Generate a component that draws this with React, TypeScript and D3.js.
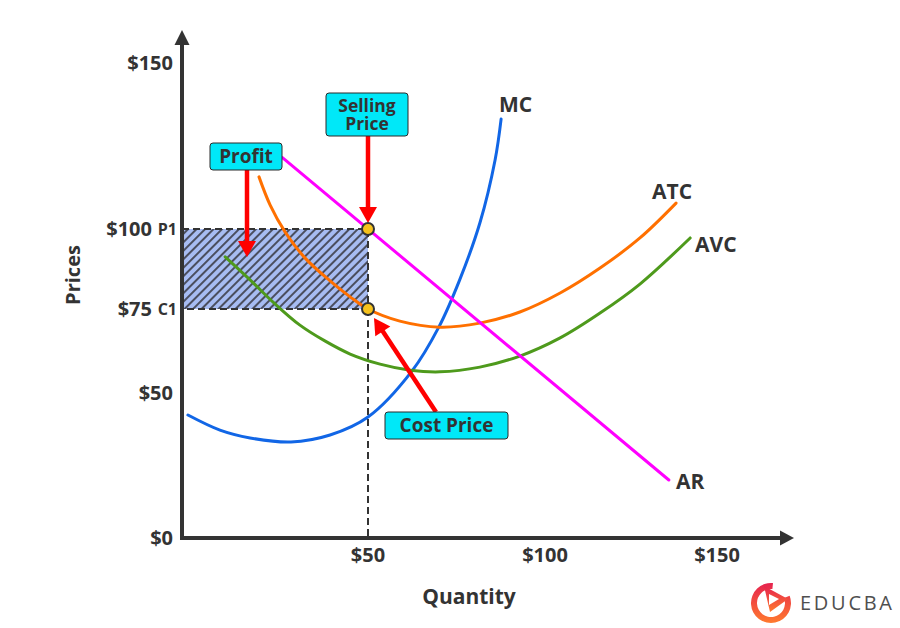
import React, { useEffect, useRef } from 'react';
import * as d3 from 'd3';

const W = 900;
const H = 628;
const FONT = '"Open Sans", "DejaVu Sans", sans-serif';
const INK = '#333333';

// axis ticks
const xTickValues = [50, 100, 150];
const xTickLabels = ['$50', '$100', '$150'];
const yTickValues = [0, 50, 75, 100, 150];
const yTickLabels = ['$0', '$50', '$75', '$100', '$150'];
const yTickTags = ['', '', 'C1', 'P1', ''];

// cost and revenue curves: quantity vs price
const mcQty = [1.6, 10.2, 18.3, 29.3, 39.8, 50, 62.4, 70.0, 75.9, 81.6, 85.9, 87.6];
const mcPrice = [42.4, 37.2, 34.5, 33.1, 35.5, 41.7, 56.5, 69.6, 84.1, 101.8, 120.8, 133.1];
const atcQty = [20.7, 23.7, 27.7, 33.1, 39.8, 45.2, 50, 59.0, 70.3, 81.6, 92.9, 104.4, 116.0, 127.6, 138.1];
const atcPrice = [115.7, 107.2, 99.1, 90.9, 83.8, 78.8, 75, 71.4, 69.6, 70.8, 74.1, 80.0, 87.8, 97.2, 107.8];
const avcQty = [11.6, 18.3, 25.0, 31.7, 38.4, 45.2, 53.4, 61.9, 70.3, 81.6, 92.9, 104.4, 116.0, 127.6, 142.2];
const avcPrice = [91.3, 84.1, 76.6, 70.2, 65.5, 61.6, 58.6, 56.8, 56.3, 57.7, 61.0, 66.4, 73.8, 82.8, 97.2];
const arQty = [27, 136];
const arPrice = [121.5, 20];

// output and the two price levels
const outputQty = 50;
const sellingPrice = 100; // P1
const costPrice = 75; // C1

const curves = [
  { name: 'MC', qty: mcQty, price: mcPrice, color: '#1166E6' },
  { name: 'ATC', qty: atcQty, price: atcPrice, color: '#FF7000' },
  { name: 'AVC', qty: avcQty, price: avcPrice, color: '#4E9A1C' },
  { name: 'AR', qty: arQty, price: arPrice, color: '#FF00FF' },
];

const App = () => {
  const svgRef = useRef<SVGSVGElement>(null);

  useEffect(() => {
    const svg = d3.select(svgRef.current);
    svg.selectAll('*').remove();

    const x = d3.scaleLinear().domain([0, 50, 100, 150]).range([182, 368, 545, 717]);
    const y = d3.scaleLinear().domain([0, 50, 75, 100, 150]).range([538, 393, 309, 229, 63]);
    const x0 = x(0);
    const y0 = y(0);

    const defs = svg.append('defs');
    const hatch = defs.append('pattern')
      .attr('id', 'hatch')
      .attr('patternUnits', 'userSpaceOnUse')
      .attr('width', 6)
      .attr('height', 6)
      .attr('patternTransform', 'rotate(45)');
    hatch.append('rect').attr('width', 6).attr('height', 6).attr('fill', '#A7BCF2');
    hatch.append('line')
      .attr('x1', 1).attr('y1', 0).attr('x2', 1).attr('y2', 6)
      .attr('stroke', '#3a3a44').attr('stroke-width', 1.7);

    const grad = defs.append('linearGradient')
      .attr('id', 'logoGrad')
      .attr('x1', '0.2').attr('y1', '0').attr('x2', '0.2').attr('y2', '1');
    grad.append('stop').attr('offset', '0%').attr('stop-color', '#E6234F');
    grad.append('stop').attr('offset', '100%').attr('stop-color', '#FF7A2E');

    // profit area between P1 and C1
    svg.append('rect')
      .attr('x', x0)
      .attr('y', y(sellingPrice))
      .attr('width', x(outputQty) - x0)
      .attr('height', y(costPrice) - y(sellingPrice))
      .attr('fill', 'url(#hatch)')
      .attr('stroke', INK)
      .attr('stroke-width', 2)
      .attr('stroke-dasharray', '7,4');

    // drop line to the quantity axis
    svg.append('line')
      .attr('x1', x(outputQty)).attr('y1', y(costPrice))
      .attr('x2', x(outputQty)).attr('y2', y0)
      .attr('stroke', INK)
      .attr('stroke-width', 2)
      .attr('stroke-dasharray', '7,4');

    // axes
    const axisG = svg.append('g').attr('fill', INK).attr('stroke', INK);
    axisG.append('line').attr('x1', x0).attr('y1', y0 + 2).attr('x2', x0).attr('y2', 42).attr('stroke-width', 4);
    axisG.append('line').attr('x1', x0 - 2).attr('y1', y0).attr('x2', 783).attr('y2', y0).attr('stroke-width', 4);
    axisG.append('polygon').attr('stroke', 'none')
      .attr('points', `${x0},30 ${x0 - 7.5},45 ${x0 + 7.5},45`);
    axisG.append('polygon').attr('stroke', 'none')
      .attr('points', `794,${y0} 780,${y0 - 7.5} 780,${y0 + 7.5}`);

    // y tick labels
    yTickValues.forEach((v, i) => {
      const tag = yTickTags[i];
      svg.append('text')
        .attr('x', tag ? 152 : 173)
        .attr('y', y(v))
        .attr('dy', '0.36em')
        .attr('text-anchor', 'end')
        .attr('font-family', FONT).attr('font-weight', 700).attr('font-size', 20)
        .attr('fill', INK)
        .text(yTickLabels[i]);
      if (tag) {
        svg.append('text')
          .attr('x', 177)
          .attr('y', y(v))
          .attr('dy', '0.4em')
          .attr('text-anchor', 'end')
          .attr('font-family', FONT).attr('font-weight', 700).attr('font-size', 16)
          .attr('fill', INK)
          .text(tag);
      }
    });

    // x tick labels
    xTickValues.forEach((v, i) => {
      svg.append('text')
        .attr('x', x(v))
        .attr('y', 562)
        .attr('text-anchor', 'middle')
        .attr('font-family', FONT).attr('font-weight', 700).attr('font-size', 20)
        .attr('fill', INK)
        .text(xTickLabels[i]);
    });

    // axis titles
    svg.append('text')
      .attr('x', 469).attr('y', 604)
      .attr('text-anchor', 'middle')
      .attr('font-family', FONT).attr('font-weight', 700).attr('font-size', 21)
      .attr('fill', INK)
      .text('Quantity');
    svg.append('text')
      .attr('transform', 'translate(80,275) rotate(-90)')
      .attr('text-anchor', 'middle')
      .attr('font-family', FONT).attr('font-weight', 700).attr('font-size', 20)
      .attr('fill', INK)
      .text('Prices');

    // curves
    const line = d3.line<[number, number]>()
      .x(d => x(d[0]))
      .y(d => y(d[1]))
      .curve(d3.curveCatmullRom.alpha(0.5));

    curves.forEach(c => {
      const pts = c.qty.map((q, i) => [q, c.price[i]] as [number, number]);
      svg.append('path')
        .attr('d', line(pts))
        .attr('fill', 'none')
        .attr('stroke', c.color)
        .attr('stroke-width', 3)
        .attr('stroke-linecap', 'round');
    });

    // curve names
    const names = [
      { t: 'MC', x: 499, y: 112 },
      { t: 'ATC', x: 652, y: 199 },
      { t: 'AVC', x: 695, y: 252 },
      { t: 'AR', x: 676, y: 489 },
    ];
    names.forEach(n => {
      svg.append('text')
        .attr('x', n.x).attr('y', n.y)
        .attr('font-family', FONT).attr('font-weight', 700).attr('font-size', 21)
        .attr('fill', INK)
        .text(n.t);
    });

    // red pointer arrows
    const arrow = (x1: number, y1: number, x2: number, y2: number) => {
      const dx = x2 - x1;
      const dy = y2 - y1;
      const len = Math.hypot(dx, dy);
      const ux = dx / len;
      const uy = dy / len;
      const headLen = 16;
      const half = 9;
      const bx = x2 - ux * headLen;
      const by = y2 - uy * headLen;
      svg.append('line')
        .attr('x1', x1).attr('y1', y1).attr('x2', bx + ux).attr('y2', by + uy)
        .attr('stroke', '#FF0000').attr('stroke-width', 4.5);
      svg.append('polygon')
        .attr('points', `${x2},${y2} ${bx - uy * half},${by + ux * half} ${bx + uy * half},${by - ux * half}`)
        .attr('fill', '#FF0000');
    };
    arrow(247, 170, 247, 257);
    arrow(x(outputQty), 136, x(outputQty), y(sellingPrice) - 6);
    arrow(436, 412, x(outputQty) + 6, y(costPrice) + 9);

    // intersection markers
    [sellingPrice, costPrice].forEach(p => {
      svg.append('circle')
        .attr('cx', x(outputQty)).attr('cy', y(p)).attr('r', 6)
        .attr('fill', '#F6C21C')
        .attr('stroke', INK).attr('stroke-width', 2);
    });

    // callout boxes; multi-line labels go into one text element
    const boxes = [
      { lines: ['Profit'], x: 210, y: 143, w: 72, h: 27, size: 19, lh: 0 },
      { lines: ['Selling', 'Price'], x: 326, y: 93, w: 82, h: 43, size: 17.5, lh: 18 },
      { lines: ['Cost Price'], x: 385, y: 412, w: 123, h: 27, size: 19, lh: 0 },
    ];
    boxes.forEach(b => {
      svg.append('rect')
        .attr('x', b.x).attr('y', b.y).attr('width', b.w).attr('height', b.h)
        .attr('rx', 3)
        .attr('fill', '#00E8F8')
        .attr('stroke', '#2b2b2b').attr('stroke-width', 1);
      const cx = b.x + b.w / 2;
      const top = b.y + b.h / 2 - ((b.lines.length - 1) * b.lh) / 2;
      const t = svg.append('text')
        .attr('x', cx)
        .attr('y', top)
        .attr('text-anchor', 'middle')
        .attr('font-family', FONT).attr('font-weight', 700).attr('font-size', b.size)
        .attr('fill', INK);
      b.lines.forEach((l, i) => {
        t.append('tspan')
          .attr('x', cx)
          .attr('y', top + i * b.lh)
          .attr('dy', '0.36em')
          .text(l);
      });
    });

    // brand mark
    const logo = svg.append('g').attr('transform', 'translate(771,603)');
    const ring = d3.arc()({ innerRadius: 14, outerRadius: 20, startAngle: 1.2, endAngle: Math.PI * 2 + 0.1 } as any);
    logo.append('path').attr('d', ring).attr('fill', 'url(#logoGrad)');
    logo.append('path')
      .attr('d', 'M-7,-17 L17,-4 L-1,9 Z M-2,-9 L-2,2 L8,-4 Z')
      .attr('fill-rule', 'evenodd')
      .attr('fill', 'url(#logoGrad)');
    svg.append('text')
      .attr('x', 800).attr('y', 610)
      .attr('font-family', FONT).attr('font-size', 20)
      .attr('textLength', 92)
      .attr('fill', '#4f4f4f')
      .text('EDUCBA');
  }, []);

  return (
    <svg
      ref={svgRef}
      width={W}
      height={H}
      style={{ position: 'absolute', left: 0, top: 0, background: '#ffffff' }}
    />
  );
};

export default App;
